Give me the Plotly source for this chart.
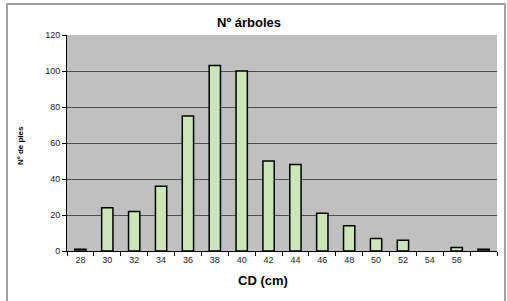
import plotly.graph_objects as go

categories = ["28", "30", "32", "34", "36", "38", "40", "42", "44", "46", "48", "50", "52", "54", "56", " "]
values = [1, 24, 22, 36, 75, 103, 100, 50, 48, 21, 14, 7, 6, 0, 2, 1]
title_text = "Nº árboles"
x_title = "CD (cm)"
y_title = "Nº de pies"

W, H = 507, 301
L, R, T, B = 67, 10, 35, 50
pw, ph = W - L - R, H - T - B

def px(x):
    return (x - L) / pw

def py(y):
    return (H - B - y) / ph

line_widths = [1.5 if v > 0 else 0 for v in values]

fig = go.Figure(go.Bar(
    x=categories, y=values,
    marker=dict(color="#CCE6B8", line=dict(color="black", width=line_widths)),
    width=0.42,
))

fig.update_layout(
    width=W, height=H,
    margin=dict(l=L, r=R, t=T, b=B),
    paper_bgcolor="white",
    plot_bgcolor="#C0C0C0",
    showlegend=False,
    font=dict(family="Liberation Sans, Arial", color="black", size=9),
    xaxis=dict(
        type="category", categoryorder="array", categoryarray=categories,
        showline=True, linecolor="black", linewidth=1,
        ticks="outside", tickson="boundaries", ticklen=4, tickcolor="black",
        tickfont=dict(size=9, color="#222"), showgrid=False, automargin=False,
    ),
    yaxis=dict(
        range=[0, 120], tickvals=[0, 20, 40, 60, 80, 100, 120],
        showline=True, linecolor="black", linewidth=1,
        ticks="outside", ticklen=4, tickcolor="black",
        tickfont=dict(size=9, color="#222"),
        showgrid=True, gridcolor="#505050", gridwidth=1,
        zeroline=False, automargin=False,
    ),
    shapes=[dict(
        type="rect", xref="paper", yref="paper",
        x0=px(7), x1=px(505), y0=py(310), y1=py(4),
        line=dict(color="#A0A0A0", width=2), fillcolor="rgba(0,0,0,0)", layer="below",
    )],
    annotations=[
        dict(text=f"<b>{title_text}</b>", xref="paper", yref="paper",
             x=px(249), y=py(23), showarrow=False, font=dict(size=13),
             xanchor="center", yanchor="middle"),
        dict(text=f"<b>{x_title}</b>", xref="paper", yref="paper",
             x=px(263), y=py(280), showarrow=False, font=dict(size=13),
             xanchor="center", yanchor="middle"),
        dict(text=f"<b>{y_title}</b>", xref="paper", yref="paper",
             x=px(20), y=py(146), showarrow=False, font=dict(size=8),
             textangle=-90, xanchor="center", yanchor="middle"),
    ],
)

fig.write_html("out.html", config={"displayModeBar": False},
               post_script="document.body.style.margin='0';")
